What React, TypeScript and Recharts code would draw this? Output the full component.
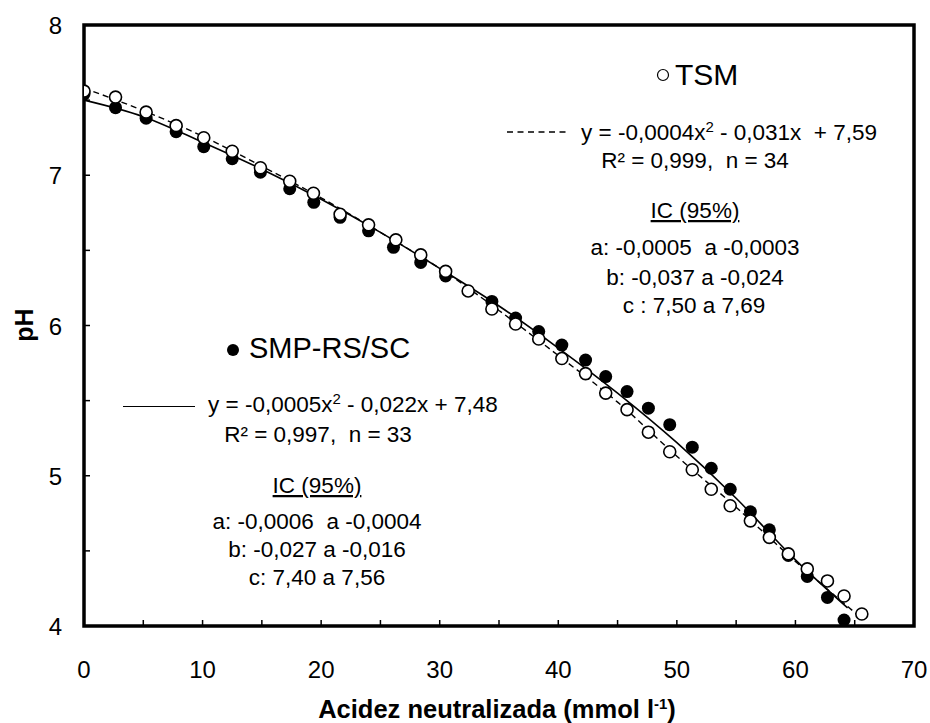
import React from 'react';
import { ComposedChart, Scatter, Line, XAxis, YAxis, ReferenceArea } from 'recharts';

// TSM (open circles)
const tsmAcidity = [0, 2.66, 5.24, 7.77, 10.1, 12.5, 14.88, 17.35, 19.35, 21.6, 24.0, 26.3, 28.4, 30.5, 32.4, 34.4, 36.4, 38.35, 40.3, 42.3, 44.0, 45.8, 47.6, 49.4, 51.3, 52.9, 54.5, 56.2, 57.8, 59.4, 61.0, 62.7, 64.1, 65.6];
const tsmPH = [7.56, 7.52, 7.42, 7.33, 7.25, 7.16, 7.05, 6.96, 6.88, 6.74, 6.67, 6.57, 6.47, 6.36, 6.23, 6.11, 6.01, 5.91, 5.78, 5.68, 5.55, 5.44, 5.29, 5.16, 5.04, 4.91, 4.80, 4.70, 4.59, 4.48, 4.38, 4.30, 4.20, 4.08];

// SMP-RS/SC (filled circles)
const smpAcidity = [0, 2.66, 5.24, 7.77, 10.1, 12.5, 14.88, 17.35, 19.38, 21.6, 24.0, 26.1, 28.4, 30.5, 34.4, 36.4, 38.35, 40.3, 42.3, 44.0, 45.8, 47.6, 49.4, 51.3, 52.9, 54.5, 56.2, 57.8, 59.4, 61.0, 62.7, 64.1];
const smpPH = [7.54, 7.45, 7.38, 7.29, 7.19, 7.11, 7.02, 6.91, 6.82, 6.72, 6.63, 6.52, 6.42, 6.33, 6.16, 6.05, 5.96, 5.87, 5.77, 5.66, 5.56, 5.45, 5.34, 5.19, 5.05, 4.91, 4.76, 4.64, 4.47, 4.33, 4.19, 4.04];

// fitted curves
const tsmFitX = [0, 5, 10, 15, 20, 25, 30, 35, 40, 45, 50, 55, 60, 65.6];
const tsmFitY = [7.58, 7.43, 7.26, 7.06, 6.85, 6.62, 6.38, 6.10, 5.80, 5.49, 5.13, 4.79, 4.43, 4.05];
const smpFitX = [0, 5, 10, 15, 20, 25, 30, 35, 40, 45, 50, 55, 60, 64.4];
const smpFitY = [7.50, 7.39, 7.22, 7.04, 6.84, 6.62, 6.38, 6.13, 5.85, 5.55, 5.22, 4.85, 4.44, 4.12];

const xTicks = [0, 5, 10, 15, 20, 25, 30, 35, 40, 45, 50, 55, 60, 65, 70];
const yTicks = [4, 4.5, 5, 5.5, 6, 6.5, 7, 7.5, 8];

const FONT = '"Liberation Sans", Arial, sans-serif';

const toPoints = (xs: number[], ys: number[]) => xs.map((x, i) => ({ x, y: ys[i] }));

const XTick = (props: any) => {
  const { x, y, payload } = props;
  const v = payload.value;
  const edge = v === 0 || v === 70;
  return (
    <g>
      {!edge && <line x1={x} y1={y} x2={x} y2={y - 6} stroke="#000" strokeWidth={1.5} />}
      {v % 10 === 0 && (
        <text x={x} y={y + 52} textAnchor="middle" fontSize={24} fontFamily={FONT} fill="#000">{v}</text>
      )}
    </g>
  );
};

const YTick = (props: any) => {
  const { x, y, payload } = props;
  const v = payload.value;
  const edge = v === 4 || v === 8;
  return (
    <g>
      {!edge && <line x1={x} y1={y} x2={x + 6} y2={y} stroke="#000" strokeWidth={1.5} />}
      {Number.isInteger(v) && (
        <text x={x - 22} y={y + 9} textAnchor="end" fontSize={24} fontFamily={FONT} fill="#000">{v}</text>
      )}
    </g>
  );
};

const OpenDot = (p: any) => <circle cx={p.cx} cy={p.cy} r={6} fill="#fff" stroke="#000" strokeWidth={1.6} />;
const FilledDot = (p: any) => <circle cx={p.cx} cy={p.cy} r={6.5} fill="#000" />;

const txt = { fontFamily: FONT, fill: '#000', whiteSpace: 'pre' as const };

const App: React.FC = () => {
  return (
    <div style={{ position: 'absolute', left: 0, top: 0, width: 930, height: 723, background: '#fff' }}>
      <ComposedChart width={930} height={723} margin={{ top: 25, right: 16, left: 24, bottom: 67 }}>
        <XAxis
          type="number"
          dataKey="x"
          domain={[0, 70]}
          ticks={xTicks}
          allowDataOverflow
          axisLine={false}
          tickLine={false}
          tickSize={0}
          tickMargin={0}
          height={30}
          tick={<XTick />}
          interval={0}
        />
        <YAxis
          type="number"
          dataKey="y"
          domain={[4, 8]}
          ticks={yTicks}
          allowDataOverflow
          axisLine={false}
          tickLine={false}
          tickSize={0}
          tickMargin={0}
          width={60}
          tick={<YTick />}
          interval={0}
        />
        <ReferenceArea x1={0} x2={70} y1={4} y2={8} fill="none" stroke="#000" strokeWidth={3.5} ifOverflow="visible" />
        <Scatter data={toPoints(smpAcidity, smpPH)} dataKey="y" shape={<FilledDot />} isAnimationActive={false} />
        <Scatter data={toPoints(tsmAcidity, tsmPH)} dataKey="y" shape={<OpenDot />} isAnimationActive={false} />
        <Line data={toPoints(smpFitX, smpFitY)} dataKey="y" type="monotone" stroke="#000" strokeWidth={1.6} dot={false} isAnimationActive={false} />
        <Line data={toPoints(tsmFitX, tsmFitY)} dataKey="y" type="monotone" stroke="#000" strokeWidth={1.4} strokeDasharray="6 4" dot={false} isAnimationActive={false} />
      </ComposedChart>

      {/* annotations */}
      <svg width={930} height={723} style={{ position: 'absolute', left: 0, top: 0, pointerEvents: 'none' }}>
        <text x={24} y={325} transform="rotate(-90 24 325)" dy={9} textAnchor="middle" fontSize={25} fontWeight="bold" style={txt}>pH</text>
        <text x={497} y={718} textAnchor="middle" fontSize={25.5} fontWeight="bold" style={txt}>
          Acidez neutralizada (mmol l<tspan fontSize={15} dy={-9}>-1</tspan><tspan dy={9}>)</tspan>
        </text>

        {/* TSM block */}
        <circle cx={663} cy={75} r={5.5} fill="#fff" stroke="#000" strokeWidth={1.2} />
        <text x={675} y={85} fontSize={30} style={txt}>TSM</text>
        <line x1={507} y1={132} x2={567} y2={132} stroke="#000" strokeWidth={1.5} strokeDasharray="6 4.5" />
        <text x={581} y={139.5} fontSize={22.5} style={txt}>
          y = -0,0004x<tspan fontSize={15} dy={-8}>2</tspan><tspan dy={8}> - 0,031x  + 7,59</tspan>
        </text>
        <text x={695} y={168} textAnchor="middle" fontSize={22.5} style={txt}>R² = 0,999,  n = 34</text>
        <text x={695} y={218} textAnchor="middle" fontSize={22.5} textDecoration="underline" style={txt}>IC (95%)</text>
        <text x={695} y={255} textAnchor="middle" fontSize={22.5} style={txt}>a: -0,0005  a -0,0003</text>
        <text x={695} y={285} textAnchor="middle" fontSize={22.5} style={txt}>b: -0,037 a -0,024</text>
        <text x={694} y={313} textAnchor="middle" fontSize={22.5} style={txt}>c : 7,50 a 7,69</text>

        {/* SMP-RS/SC block */}
        <circle cx={233} cy={350} r={6} fill="#000" />
        <text x={249} y={358} fontSize={29} style={txt}>SMP-RS/SC</text>
        <line x1={123} y1={406.5} x2={195} y2={406.5} stroke="#000" strokeWidth={1} />
        <text x={208} y={412} fontSize={22.5} style={txt}>
          y = -0,0005x<tspan fontSize={15} dy={-8}>2</tspan><tspan dy={8}> - 0,022x + 7,48</tspan>
        </text>
        <text x={318} y={442} textAnchor="middle" fontSize={22.5} style={txt}>R² = 0,997,  n = 33</text>
        <text x={317} y={493} textAnchor="middle" fontSize={22.5} textDecoration="underline" style={txt}>IC (95%)</text>
        <text x={317} y={529} textAnchor="middle" fontSize={22.5} style={txt}>a: -0,0006  a -0,0004</text>
        <text x={317} y={557} textAnchor="middle" fontSize={22.5} style={txt}>b: -0,027 a -0,016</text>
        <text x={317} y={585} textAnchor="middle" fontSize={22.5} style={txt}>c: 7,40 a 7,56</text>
      </svg>
    </div>
  );
};

export default App;
